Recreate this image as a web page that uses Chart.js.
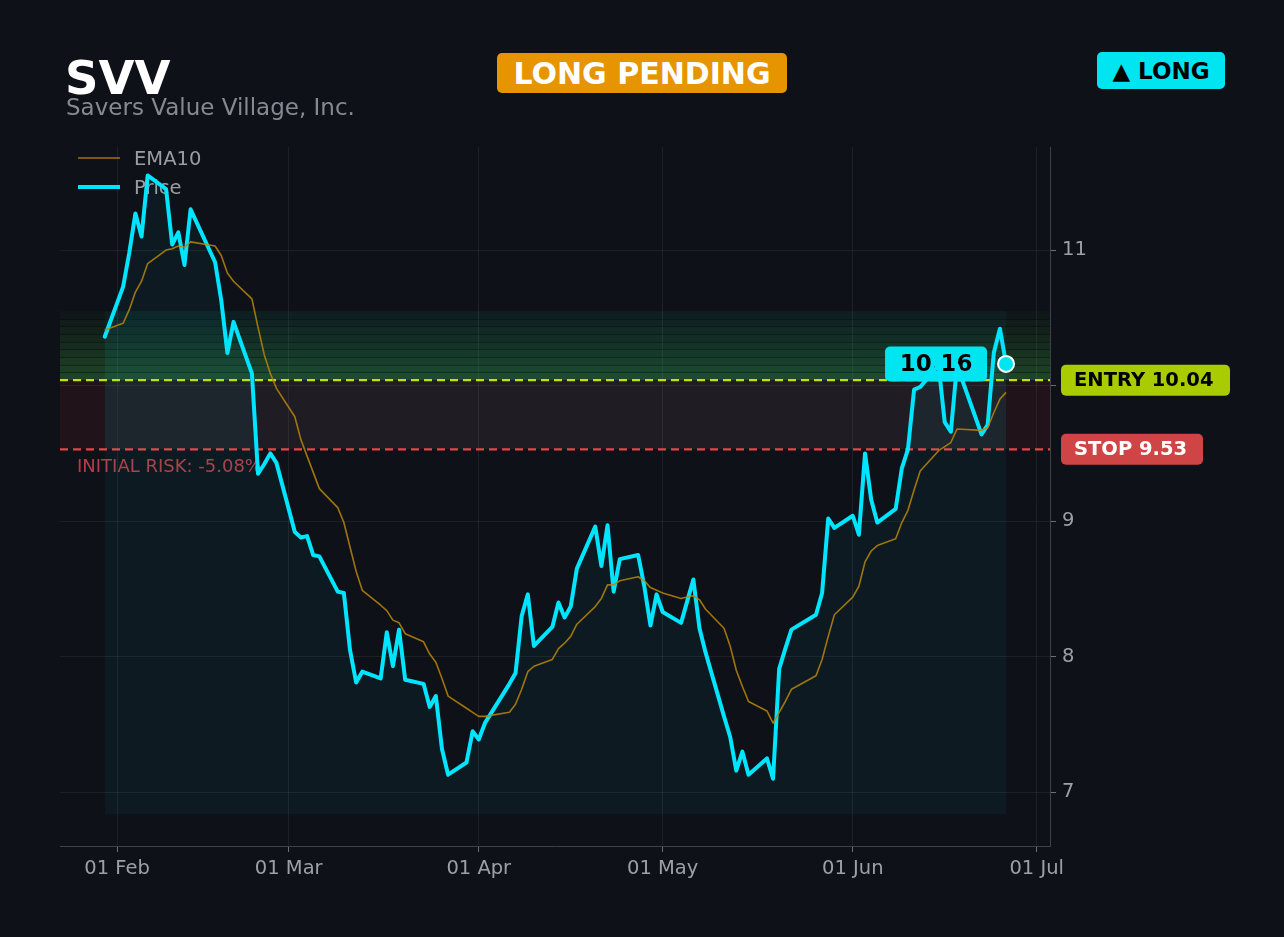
<!DOCTYPE html>
<html>
<head>
<meta charset="utf-8">
<title>SVV</title>
<script src="https://cdn.jsdelivr.net/npm/chart.js@4.4.1/dist/chart.umd.min.js"></script>
<style>
  html, body { margin: 0; padding: 0; background: #0e1117; }
  #wrap { position: relative; width: 1284px; height: 937px; overflow: hidden; font-family: "DejaVu Sans", sans-serif; }
  #chart { position: absolute; left: 0; top: 0; }
  .ticker { position: absolute; left: 65px; top: 55px; font-size: 46.5px; line-height: 46.5px; font-weight: bold; color: #ffffff; }
  .company { position: absolute; left: 66px; top: 95.5px; font-size: 23px; line-height: 23px; color: #858a92; }
  .badge { position: absolute; display: flex; align-items: center; justify-content: center; font-weight: bold; border-radius: 5px; }
  .pending { left: 497px; top: 53px; width: 290px; height: 40px; background: #e69500; color: #ffffff; font-size: 30px; }
  .side { left: 1097px; top: 52px; width: 128px; height: 37px; background: #00e5f0; color: #000000; font-size: 23px; }
</style>
</head>
<body>
<div id="wrap">
  <canvas id="chart" width="1284" height="937"></canvas>
  <div class="ticker">SVV</div>
  <div class="company">Savers Value Village, Inc.</div>
  <div class="badge pending">LONG PENDING</div>
  <div class="badge side">▲ LONG</div>
</div>
<script>
// ==================================================
// DATA (2026, trading days)
// ==================================================
const tradeDates = [
    "01-30",
    "02-02", "02-03", "02-04", "02-05", "02-06",
    "02-09", "02-10", "02-11", "02-12", "02-13",
    "02-17", "02-18", "02-19", "02-20",
    "02-23", "02-24", "02-25", "02-26", "02-27",
    "03-02", "03-03", "03-04", "03-05", "03-06",
    "03-09", "03-10", "03-11", "03-12", "03-13",
    "03-16", "03-17", "03-18", "03-19", "03-20",
    "03-23", "03-24", "03-25", "03-26", "03-27",
    "03-30", "03-31", "04-01", "04-02",
    "04-06", "04-07", "04-08", "04-09", "04-10",
    "04-13", "04-14", "04-15", "04-16", "04-17",
    "04-20", "04-21", "04-22", "04-23", "04-24",
    "04-27", "04-28", "04-29", "04-30", "05-01",
    "05-04", "05-05", "05-06", "05-07", "05-08",
    "05-11", "05-12", "05-13", "05-14", "05-15",
    "05-18", "05-19", "05-20", "05-21", "05-22",
    "05-26", "05-27", "05-28", "05-29",
    "06-01", "06-02", "06-03", "06-04", "06-05",
    "06-08", "06-09", "06-10", "06-11", "06-12",
    "06-15", "06-16", "06-17", "06-18",
    "06-22", "06-23", "06-24", "06-25", "06-26"
];

const priceValues = [
    10.36,
    10.73, 10.98, 11.27, 11.10, 11.55,
    11.45, 11.04, 11.13, 10.89, 11.30,
    10.91, 10.63, 10.24, 10.47,
    10.09, 9.35, 9.42, 9.50, 9.43,
    8.92, 8.88, 8.89, 8.75, 8.74,
    8.48, 8.47, 8.05, 7.81, 7.89,
    7.84, 8.18, 7.93, 8.20, 7.83,
    7.80, 7.63, 7.71, 7.32, 7.13,
    7.22, 7.45, 7.39, 7.51,
    7.80, 7.88, 8.30, 8.46, 8.08,
    8.22, 8.40, 8.29, 8.37, 8.65,
    8.96, 8.67, 8.97, 8.48, 8.72,
    8.75, 8.52, 8.23, 8.46, 8.33,
    8.25, 8.41, 8.57, 8.21, 8.03,
    7.56, 7.41, 7.16, 7.30, 7.13,
    7.25, 7.10, 7.91, 8.06, 8.20,
    8.31, 8.47, 9.02, 8.95,
    9.04, 8.90, 9.50, 9.16, 8.99,
    9.09, 9.39, 9.53, 9.97, 9.99,
    10.15, 9.73, 9.66, 10.15,
    9.64, 9.71, 10.24, 10.42, 10.16
];

const ema10Values = [
    10.41,
    10.46, 10.56, 10.69, 10.77, 10.90,
    11.00, 11.01, 11.03, 11.02, 11.06,
    11.03, 10.96, 10.83, 10.77,
    10.64, 10.43, 10.23, 10.09, 9.98,
    9.77, 9.60, 9.48, 9.36, 9.24,
    9.10, 8.99, 8.81, 8.63, 8.49,
    8.38, 8.34, 8.27, 8.25, 8.17,
    8.11, 8.02, 7.96, 7.84, 7.71,
    7.62, 7.59, 7.56, 7.56,
    7.59, 7.65, 7.76, 7.89, 7.93,
    7.98, 8.06, 8.10, 8.15, 8.24,
    8.37, 8.43, 8.53, 8.53, 8.56,
    8.59, 8.56, 8.51, 8.49, 8.47,
    8.43, 8.44, 8.45, 8.42, 8.35,
    8.21, 8.08, 7.90, 7.78, 7.67,
    7.60, 7.51, 7.59, 7.67, 7.76,
    7.86, 7.98, 8.15, 8.31,
    8.44, 8.52, 8.70, 8.78, 8.82,
    8.87, 8.99, 9.08, 9.23, 9.37,
    9.52, 9.55, 9.58, 9.68,
    9.67, 9.69, 9.80, 9.90, 9.95
];

const monthTickDates = ["02-01", "03-01", "04-01", "05-01", "06-01", "07-01"];
const monthTickLabels = ["01 Feb", "01 Mar", "01 Apr", "01 May", "01 Jun", "01 Jul"];
const priceTickValues = [7, 8, 9, 10, 11];

const entryPrice = 10.04;
const stopPrice = 9.53;
const zoneTopPrice = 10.55;
const fillBasePrice = 6.838;
const riskText = "INITIAL RISK: -5.08%";

// ==================================================
// HELPERS
// ==================================================
const FONT = "DejaVu Sans";
const CYAN = "#00e5f0";

function dayNum(md) {
    const [m, d] = md.split("-").map(Number);
    return (Date.UTC(2026, m - 1, d) - Date.UTC(2026, 0, 1)) / 86400000;
}

function roundBox(ctx, x, y, w, h, r, color) {
    ctx.fillStyle = color;
    ctx.beginPath();
    ctx.roundRect(x, y, w, h, r);
    ctx.fill();
}

const priceData = tradeDates.map((d, i) => ({ x: dayNum(d), y: priceValues[i] }));
const emaData = tradeDates.map((d, i) => ({ x: dayNum(d), y: ema10Values[i] }));
const monthTickDays = monthTickDates.map(dayNum);

// ==================================================
// PLUGINS
// ==================================================
const zonesPlugin = {
    id: "zones",
    beforeDatasetsDraw(chart) {
        const { ctx, chartArea: a, scales: { x, y } } = chart;
        const firstX = x.getPixelForValue(priceData[0].x);
        const lastX = x.getPixelForValue(priceData[priceData.length - 1].x);
        const yEntry = y.getPixelForValue(entryPrice);
        const yStop = y.getPixelForValue(stopPrice);
        const yTop = y.getPixelForValue(zoneTopPrice);

        ctx.save();
        ctx.beginPath();
        ctx.rect(a.left, a.top, a.width, a.height);
        ctx.clip();

        // risk band
        ctx.fillStyle = "rgba(220, 53, 69, 0.09)";
        ctx.fillRect(a.left, yEntry, a.width, yStop - yEntry);

        // green target zone, stacked layers
        const layers = 9;
        const step = (yEntry - yTop) / layers;
        for (let i = 0; i < layers; i++) {
            const top = yTop + i * step;
            const alpha = 0.02 + 0.28 * Math.pow((i + 1) / layers, 1.2);
            ctx.fillStyle = `rgba(70, 190, 75, ${alpha.toFixed(3)})`;
            ctx.fillRect(a.left, top, a.width, step);
            if (i > 0) {
                ctx.fillStyle = "rgba(0, 0, 0, 0.35)";
                ctx.fillRect(a.left, Math.round(top), a.width, 1);
            }
        }

        // tint over the traded range
        ctx.fillStyle = "rgba(0, 229, 255, 0.045)";
        ctx.fillRect(firstX, yTop, lastX - firstX, yStop - yTop);

        // entry / stop lines
        ctx.lineWidth = 2.2;
        ctx.setLineDash([8, 5]);
        ctx.strokeStyle = "#c6e000";
        ctx.beginPath();
        ctx.moveTo(a.left, yEntry);
        ctx.lineTo(a.right, yEntry);
        ctx.stroke();
        ctx.strokeStyle = "#e04848";
        ctx.beginPath();
        ctx.moveTo(a.left, yStop);
        ctx.lineTo(a.right, yStop);
        ctx.stroke();
        ctx.setLineDash([]);

        // initial risk text
        ctx.font = `18px "${FONT}"`;
        ctx.fillStyle = "rgba(205, 70, 76, 0.85)";
        ctx.textBaseline = "alphabetic";
        ctx.textAlign = "left";
        ctx.fillText(riskText, 77, 472);

        // legend
        ctx.font = `19.5px "${FONT}"`;
        ctx.fillStyle = "#9a9ea4";
        ctx.lineWidth = 1.6;
        ctx.strokeStyle = "rgba(184, 134, 11, 0.85)";
        ctx.beginPath();
        ctx.moveTo(78, 158);
        ctx.lineTo(120, 158);
        ctx.stroke();
        ctx.fillText("EMA10", 134, 165);
        ctx.lineWidth = 4;
        ctx.strokeStyle = "#00e5ff";
        ctx.beginPath();
        ctx.moveTo(78, 187);
        ctx.lineTo(120, 187);
        ctx.stroke();
        ctx.fillText("Price", 134, 194);

        // last price label
        const last = priceData[priceData.length - 1];
        const ly = y.getPixelForValue(last.y);
        roundBox(ctx, lastX - 121, ly - 17.5, 102, 35, 5, CYAN);
        ctx.font = `bold 23px "${FONT}"`;
        ctx.fillStyle = "#000000";
        ctx.textAlign = "center";
        ctx.textBaseline = "middle";
        ctx.fillText(last.y.toFixed(2), lastX - 70, ly + 1);

        ctx.restore();
    },
    afterDatasetsDraw(chart) {
        const { ctx, scales: { x, y } } = chart;
        const last = priceData[priceData.length - 1];
        ctx.save();
        ctx.beginPath();
        ctx.arc(x.getPixelForValue(last.x), y.getPixelForValue(last.y), 8, 0, Math.PI * 2);
        ctx.fillStyle = CYAN;
        ctx.fill();
        ctx.lineWidth = 2;
        ctx.strokeStyle = "#ffffff";
        ctx.stroke();
        ctx.restore();
    },
    afterDraw(chart) {
        const { ctx, scales: { y } } = chart;
        const yEntry = y.getPixelForValue(entryPrice);
        const yStop = y.getPixelForValue(stopPrice);
        ctx.save();
        ctx.font = `bold 19.5px "${FONT}"`;
        ctx.textAlign = "left";
        ctx.textBaseline = "middle";

        roundBox(ctx, 1061, yEntry - 15.5, 169, 31, 5, "#a8cc00");
        ctx.fillStyle = "#000000";
        ctx.fillText("ENTRY " + entryPrice.toFixed(2), 1074, yEntry + 1);

        roundBox(ctx, 1061, yStop - 15.5, 142, 31, 5, "#cf4444");
        ctx.fillStyle = "#ffffff";
        ctx.fillText("STOP " + stopPrice.toFixed(2), 1074, yStop + 1);
        ctx.restore();
    }
};

// ==================================================
// CHART
// ==================================================
const gridColor = "rgba(255, 255, 255, 0.065)";
const tickText = "#9da1a7";

new Chart(document.getElementById("chart"), {
    type: "line",
    data: {
        datasets: [
            {
                label: "EMA10",
                data: emaData,
                borderColor: "rgba(184, 134, 11, 0.85)",
                borderWidth: 1.6,
                borderJoinStyle: "round",
                pointRadius: 0,
                tension: 0,
                fill: false
            },
            {
                label: "Price",
                data: priceData,
                borderColor: "#00e5ff",
                borderWidth: 4,
                borderJoinStyle: "round",
                borderCapStyle: "round",
                pointRadius: 0,
                tension: 0,
                fill: { target: { value: fillBasePrice } },
                backgroundColor: "rgba(0, 229, 255, 0.045)"
            }
        ]
    },
    options: {
        responsive: false,
        animation: false,
        devicePixelRatio: 1,
        layout: { padding: { left: 60, top: 147, right: 154, bottom: 41 } },
        plugins: {
            legend: { display: false },
            tooltip: { enabled: false }
        },
        scales: {
            x: {
                type: "linear",
                min: 21.7,
                max: 183.17,
                afterBuildTicks: (scale) => {
                    scale.ticks = monthTickDays.map(v => ({ value: v }));
                },
                afterFit: (scale) => { scale.height = 50; },
                ticks: {
                    autoSkip: false,
                    maxRotation: 0,
                    padding: 5,
                    color: tickText,
                    font: { family: FONT, size: 19.5 },
                    callback: (v) => monthTickLabels[monthTickDays.indexOf(v)]
                },
                grid: { color: gridColor, tickLength: 6, tickColor: "#6b7078" },
                border: { color: "#3d424a", width: 1 }
            },
            y: {
                position: "right",
                min: 6.604,
                max: 11.76,
                afterBuildTicks: (scale) => {
                    scale.ticks = priceTickValues.map(v => ({ value: v }));
                },
                afterFit: (scale) => { scale.width = 80; },
                ticks: {
                    padding: 6,
                    color: tickText,
                    font: { family: FONT, size: 19.5 },
                    callback: (v) => String(v)
                },
                grid: { color: gridColor, tickLength: 6, tickColor: "#6b7078" },
                border: { color: "#3d424a", width: 1 }
            }
        }
    },
    plugins: [zonesPlugin]
});
</script>
</body>
</html>
